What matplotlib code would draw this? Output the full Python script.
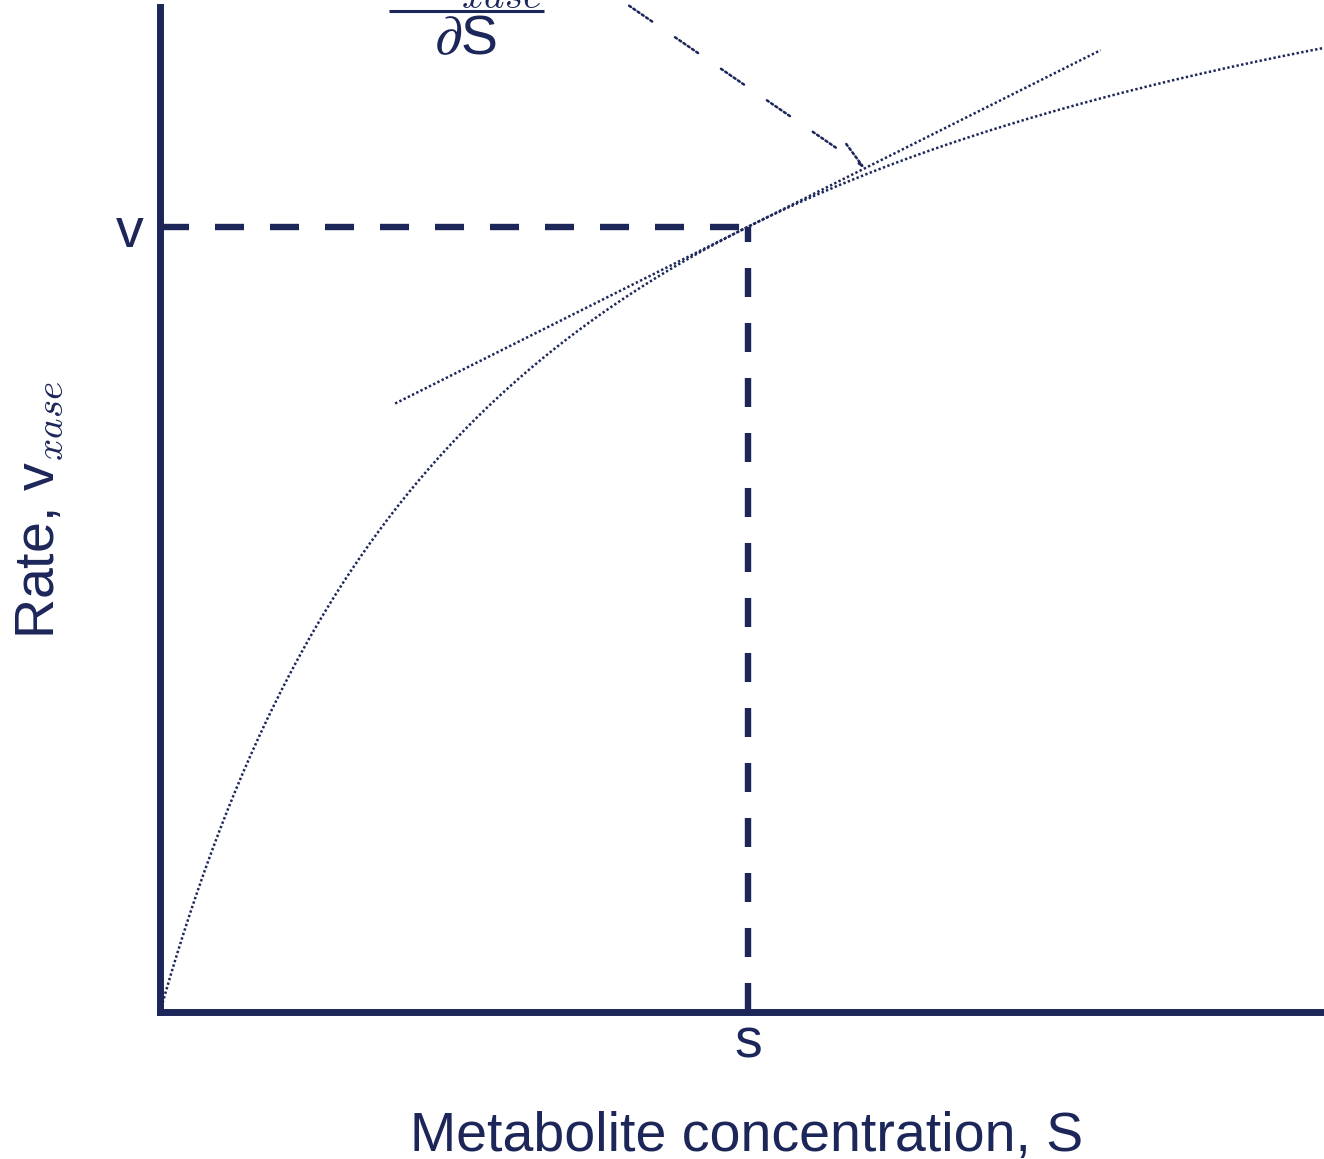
import matplotlib
matplotlib.use("Agg")
import matplotlib.pyplot as plt
from matplotlib.lines import Line2D
import numpy as np

# ---- values (normalised units: S in units of Km, rate in units of Vmax) ----
VMAX = 1.0
KM = 1.0
S_POINT = 5.0 / 3.0          # chosen concentration s
X_LIMITS = [0.0, 3.3]
Y_LIMITS = [0.0, 0.80]
TANGENT_HALF_SPAN = 1.0      # tangent drawn from s-1 to s+1
ARROW_TARGET_X = 2.0         # arrow points to tangent at this S
ARROW_START = [1.33, 0.801]
X_TICK_LABELS = ["s"]
Y_TICK_LABELS = ["v"]
X_LABEL = "Metabolite concentration, S"
Y_LABEL = "Rate, v$_{xase}$"
FRAC_NUM = r"$\partial$v$_{xase}$"
FRAC_DEN = r"$\partial$S"

NAVY = "#1c2659"

plt.rcParams["font.family"] = ["Liberation Sans", "DejaVu Sans"]
plt.rcParams["mathtext.fontset"] = "cm"
plt.rcParams["lines.scale_dashes"] = False


def rate(S):
    return VMAX * S / (KM + S)


V_POINT = rate(S_POINT)
SLOPE = VMAX * KM / (KM + S_POINT) ** 2


def tangent(S):
    return V_POINT + SLOPE * (S - S_POINT)


W, H = 1324, 1159


def fx(px):
    return px / W


def fy(py):
    return 1 - py / H


fig = plt.figure(figsize=(W / 100, H / 100), dpi=100)
ax = fig.add_axes([160 / W, (H - 1012) / H, (W - 160) / W, (1012 - 7) / H])
ax.set_xlim(*X_LIMITS)
ax.set_ylim(*Y_LIMITS)

for side in ("top", "right"):
    ax.spines[side].set_visible(False)
for side in ("left", "bottom"):
    ax.spines[side].set_linewidth(5)
    ax.spines[side].set_color(NAVY)
    ax.spines[side].set_capstyle("projecting")

dot_style = (0, (1.7, 1.7))

# Michaelis-Menten curve
S_curve = np.linspace(X_LIMITS[0], X_LIMITS[1], 600)
ax.plot(S_curve, rate(S_curve), color=NAVY, lw=1.8, linestyle=dot_style,
        clip_on=False, zorder=3)

# tangent
S_tan = np.array([S_POINT - TANGENT_HALF_SPAN, S_POINT + TANGENT_HALF_SPAN])
ax.plot(S_tan, tangent(S_tan), color=NAVY, lw=1.8, linestyle=dot_style, zorder=3)

# guide lines
dash = (0, (20.9, 18.7))
ax.plot([0, S_POINT], [V_POINT, V_POINT], color=NAVY, lw=4.6, linestyle=dash,
        zorder=2)
ax.plot([S_POINT, S_POINT], [0, V_POINT], color=NAVY, lw=4.6, linestyle=dash,
        zorder=2)

# ticks
ax.set_xticks([S_POINT])
ax.set_xticklabels(X_TICK_LABELS)
ax.set_yticks([V_POINT])
ax.set_yticklabels(Y_TICK_LABELS)
ax.tick_params(axis="both", length=0, labelsize=40, colors=NAVY)
ax.tick_params(axis="x", pad=4)
ax.tick_params(axis="y", pad=12)

# axis labels
fig.text(fx(747), fy(1151), X_LABEL, fontsize=40, color=NAVY,
         ha="center", va="baseline")
fig.text(fx(40), fy(510), Y_LABEL, fontsize=40, color=NAVY,
         ha="center", va="center", rotation=90)

# fraction annotation (numerator partly above the top edge, as in the original)
fig.text(fx(541), fy(-1), FRAC_NUM, fontsize=40, color=NAVY,
         ha="right", va="baseline")
fig.text(fx(465), fy(54), FRAC_DEN, fontsize=40, color=NAVY,
         ha="center", va="baseline")
fig.add_artist(Line2D([fx(389), fx(544)], [fy(10.5), fy(10.5)],
                      transform=fig.transFigure, color=NAVY, lw=2.2,
                      solid_capstyle="butt"))

arrow_ls = (0, (1.6, 2.1, 1.6, 2.1, 1.6, 2.1, 1.6, 2.1, 1.6, 2.1, 1.6, 20.0))
ax.annotate("", xy=(ARROW_TARGET_X, tangent(ARROW_TARGET_X)),
            xytext=(ARROW_START[0], ARROW_START[1]),
            annotation_clip=False,
            arrowprops=dict(arrowstyle="->,head_length=0.92,head_width=0.32",
                            mutation_scale=20, color=NAVY, lw=1.8,
                            linestyle=arrow_ls, shrinkA=0, shrinkB=0))

fig.savefig("out.png", dpi=100)
